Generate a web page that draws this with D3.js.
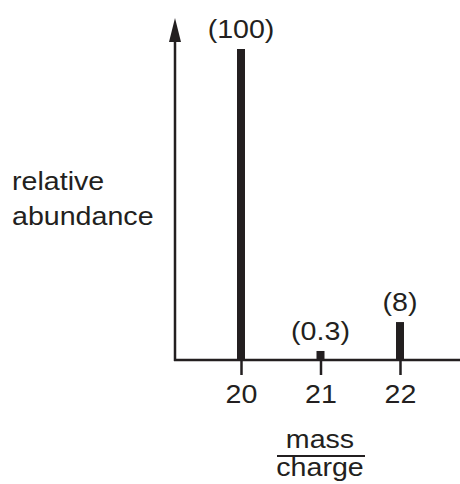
<!DOCTYPE html>
<html>
<head>
<meta charset="utf-8">
<script src="https://cdn.jsdelivr.net/npm/d3@7"></script>
<style>
  html, body { margin: 0; padding: 0; background: #fff; }
  text { font-family: "Liberation Sans", Arial, Helvetica, sans-serif; fill: #231f20; }
</style>
</head>
<body>
<svg id="chart" width="460" height="484"></svg>
<script>
// mass/charge of each peak
const masses = [20, 21, 22];
// drawn peak heights (schematic, % of tallest)
const heights = [100, 2.9, 12.2];
// abundance labels printed above peaks
const peakLabels = ['(100)', '(0.3)', '(8)'];
const tickValues = [20, 21, 22];

const ink = '#231f20';
const fontSize = 26;
const stretch = 'scale(1.1,1)'; // reference type is a bit wide
const svg = d3.select('#chart');

const x = d3.scaleLinear().domain([20, 22]).range([241, 400]);
const y = d3.scaleLinear().domain([0, 100]).range([360, 49]);

const originX = 175;
const baseY = y(0);

// text placed at (tx, ty) and stretched sideways
function addText(tx, ty, str, anchor) {
  return svg.append('g')
    .attr('transform', `translate(${tx},${ty}) ${stretch}`)
    .append('text')
    .attr('text-anchor', anchor || 'middle')
    .attr('font-size', fontSize)
    .text(str);
}

// y axis with arrow
svg.append('line')
  .attr('x1', originX).attr('x2', originX)
  .attr('y1', baseY + 1).attr('y2', 40)
  .attr('stroke', ink)
  .attr('stroke-width', 2.5);
svg.append('path')
  .attr('d', `M${originX - 6},42 L${originX},18 L${originX + 6},42 Z`)
  .attr('fill', ink);

// x axis
const xAxis = d3.axisBottom(x)
  .tickValues(tickValues)
  .tickSize(15)
  .tickFormat(d3.format('d'));

const gx = svg.append('g')
  .attr('transform', `translate(0,${baseY})`)
  .call(xAxis);
gx.select('.domain').remove();
gx.selectAll('.tick line')
  .attr('stroke', ink)
  .attr('stroke-width', 2.5);
gx.selectAll('.tick text')
  .attr('font-size', fontSize)
  .attr('fill', ink)
  .attr('y', 43)
  .attr('dy', 0)
  .attr('transform', stretch);

svg.append('line')
  .attr('x1', originX - 1).attr('x2', 460)
  .attr('y1', baseY).attr('y2', baseY)
  .attr('stroke', ink)
  .attr('stroke-width', 2.5);

// peaks
svg.selectAll('rect.peak')
  .data(masses)
  .join('rect')
  .attr('class', 'peak')
  .attr('x', d => x(d) - 4)
  .attr('width', 8)
  .attr('y', (d, i) => y(heights[i]))
  .attr('height', (d, i) => baseY - y(heights[i]))
  .attr('fill', ink);

masses.forEach((d, i) => {
  addText(x(d), y(heights[i]) - 11, peakLabels[i]);
});

// y label
addText(12, 190, 'relative', 'start');
addText(12, 225, 'abundance', 'start');

// x label as fraction
addText(320, 448, 'mass');
svg.append('line')
  .attr('x1', 277).attr('x2', 365)
  .attr('y1', 456).attr('y2', 456)
  .attr('stroke', ink)
  .attr('stroke-width', 2);
addText(320, 476, 'charge');
</script>
</body>
</html>
